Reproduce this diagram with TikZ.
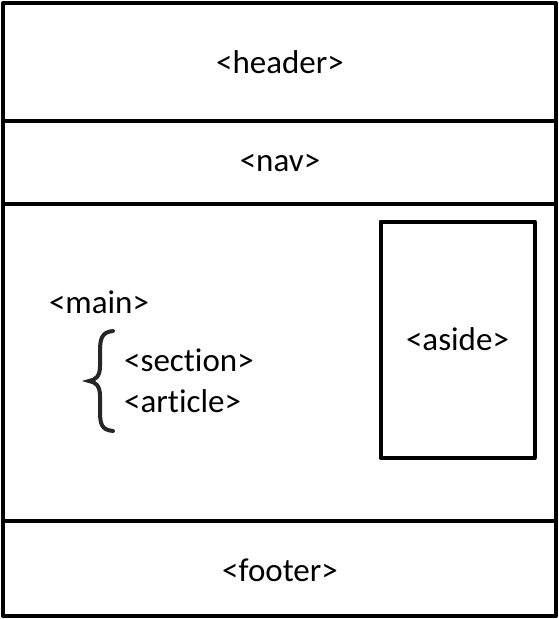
\documentclass[tikz,border=0pt]{standalone}
\usepackage{fontspec}
\setmainfont[Ligatures=NoCommon]{Carlito}
\begin{document}
\begin{tikzpicture}[x=1pt,y=-1pt,
  lbl/.style={inner sep=0pt,font=\fontsize{33}{38}\selectfont},
  frame/.style={draw=black,line width=4pt,line join=round}]
\useasboundingbox (0,0) rectangle (559,619);
\draw[frame] (3,3) rectangle (556,616);
\draw[frame] (3,121) -- (556,121);
\draw[frame] (3,203.5) -- (556,203.5);
\draw[frame] (3,521) -- (556,521);
\node[frame,minimum width=154pt,minimum height=236pt,inner sep=0pt] (aside) at (457.5,339.5) {};
\node[lbl] (headerT) at (280,62) {<header>};
\node[lbl] (navT) at (280,163) {<nav>};
\node[lbl] (mainT) at (99,302) {<main>};
\node[lbl,anchor=west] (sectionT) at (124,360) {<section>};
\node[lbl,anchor=west] (articleT) at (124,401) {<article>};
\node[lbl] (asideT) at (aside.center) {<aside>};
\node[lbl] (footerT) at (280,570) {<footer>};
\draw[line width=4pt,line cap=round,color=black!85]
  (113,331) .. controls (101,332) and (100,340) .. (100,352)
  -- (100,366) .. controls (100,376) and (96,380) .. (89,381)
  .. controls (96,382) and (100,386) .. (100,396)
  -- (100,411) .. controls (100,423) and (101,430) .. (113,431);
\end{tikzpicture}
\end{document}
